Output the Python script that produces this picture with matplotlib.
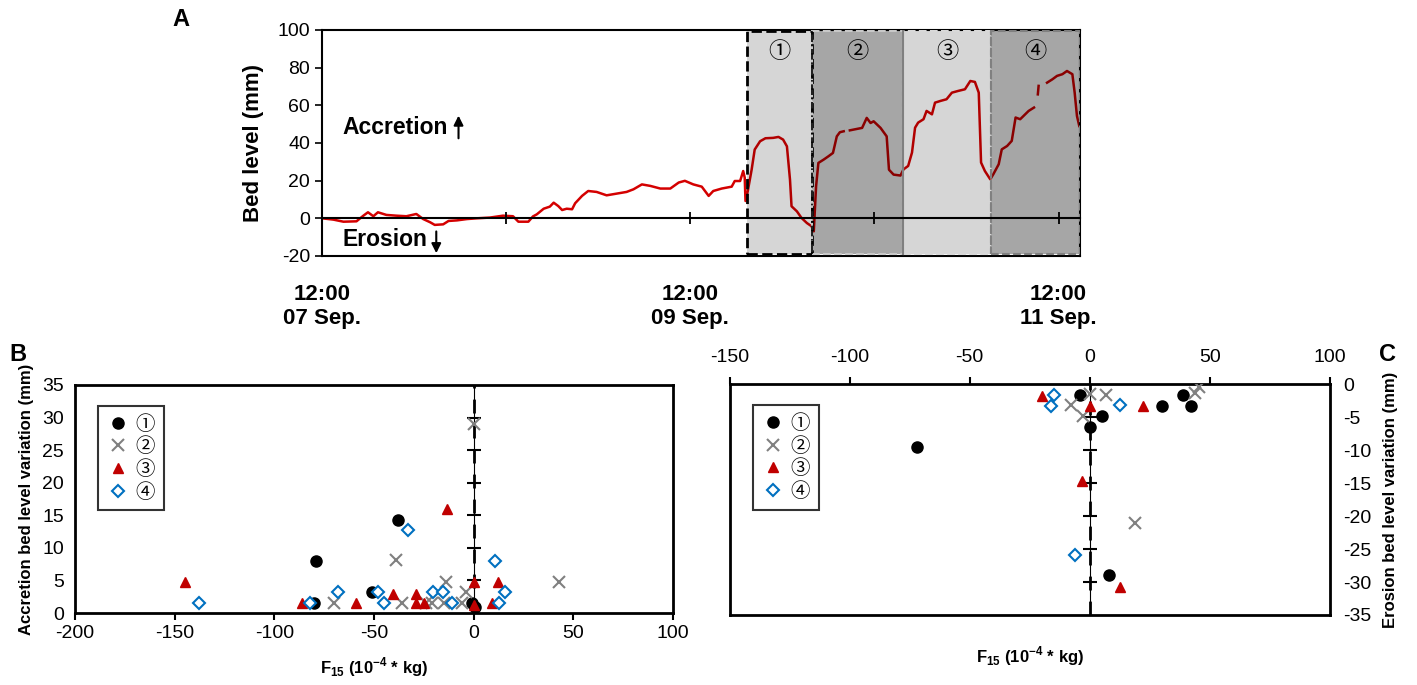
import numpy as np
import matplotlib
matplotlib.use("Agg")
import matplotlib.pyplot as plt
from matplotlib.patches import Rectangle

plt.rcParams['font.family'] = ['Liberation Sans', 'Noto Sans CJK JP', 'DejaVu Sans']
plt.rcParams['mathtext.fontset'] = 'custom'
plt.rcParams['mathtext.rm'] = 'Liberation Sans'
plt.rcParams['mathtext.bf'] = 'Liberation Sans:bold'
plt.rcParams['axes.unicode_minus'] = False

# ---- panel A: bed level time series (hours after 12:00 07 Sep.) ----
hours = [0, 1.5, 2.8, 4.5, 5.4, 6.0, 6.7, 7.3, 8.4, 9.7, 11.0, 12.3, 13.2, 14.1, 14.7,
         15.8, 16.5, 17.6, 18.9, 20.2, 21.9, 23.6, 24.9, 25.6, 26.9, 27.5, 28.0, 28.9,
         29.7, 30.2, 30.8, 31.3, 31.9, 32.6, 33.0, 33.9, 34.7, 35.8, 37.1, 38.4, 39.7,
         40.6, 41.7, 42.8, 44.1, 45.4, 46.5, 47.3, 48.4, 49.5, 50.4, 51.0, 52.1, 53.4,
         53.8, 54.5, 54.9, 55.1, 55.2, 55.5, 56.0, 56.4, 57.1, 57.8, 58.8, 59.5, 60.1,
         60.6, 61.0, 61.2, 61.9, 62.5, 63.2, 63.8, 64.1, 64.4, 64.7, 65.4, 66.0, 66.6,
         67.1, 67.5, 68.0, 68.4, 68.8, 69.3, 70.4, 71.0, 71.5, 71.9, 72.8, 73.6, 73.9,
         74.5, 75.4, 75.8, 76.4, 76.9, 77.3, 77.7, 78.4, 78.8, 79.5, 79.9, 80.6, 81.4,
         82.1, 82.9, 83.8, 84.5, 85.1, 85.6, 85.9, 86.4, 87.1, 87.5, 88.2, 88.6, 89.3,
         89.9, 90.4, 91.0, 92.1, 92.8, 93.0, 93.3, 93.4, 94.0, 94.5, 95.2, 95.8, 96.5,
         97.1, 97.8, 98.1, 98.4, 98.7]
bed_level = [0, -0.7, -1.8, -1.6, 1.4, 3.2, 1.1, 3.2, 1.8, 1.4, 1.1, 2.3, -0.4, -2.1, -3.5,
             -3.2, -1.4, -1.1, -0.4, 0, 0.4, 1.4, 1.1, -1.8, -1.8, 1.0, 2.1, 5.1,
             6.2, 8.3, 6.5, 4.4, 5.1, 4.8, 8.0, 11.9, 14.5, 14.0, 12.2, 13.1, 14.0,
             15.4, 18.0, 17.2, 15.8, 15.8, 19.0, 19.9, 18.0, 16.8, 11.9, 14.5, 15.8, 16.8,
             19.8, 19.8, 25.1, 21.6, 9.2, 14.5, 25.8, 36.5, 40.9, 42.5, 42.7, 43.2, 41.8,
             38.2, 20.5, 6.4, 3.7, 0.2, -2.5, -4.2, -6.9, 17.0, 29.4, 31.2, 32.9, 34.7,
             43.5, 45.7, 46.2, np.nan, 46.7, 47.1, 48.0, 53.3, 50.6, 51.5, 48.0, 43.5, 25.8,
             23.2, 22.7, 26.0, 27.8, 34.9, 48.1, 50.8, 52.6, 57.0, 55.2, 61.4, 62.3, 63.2,
             66.7, 67.6, 68.5, 72.9, 72.4, 66.7, 29.6, 25.1, 20.7, 23.4, 28.7, 36.6, 38.4,
             41.1, 53.5, 52.6, 57.0, 58.8, np.nan, 65.8, 70.3, np.nan, 72.0, 73.8, 75.6, 76.5,
             78.2, 76.5, 66.7, 54.3, 49.0]
period_start = [55.45, 63.85, 75.75, 87.2]
period_end = [63.85, 75.75, 87.2, 98.8]
period_names = ['①', '②', '③', '④']

# ---- panels B and C: bed level variation vs F15 ----
acc_f = {
    '①': [-79, -80, -38, -51, -1, 0.5],
    '②': [0, -39, -14, 43, -70, -36, -21, -15, -4, -6, -24],
    '③': [-145, -86, -59, -40.5, -29, -29, -25, -13.5, 0, 0.4, 12.4, 9],
    '④': [-138, -82, -68, -48, -45, -32.7, -20.3, -15.3, -10.8, 10.6, 15.8, 12.8],
}
acc_h = {
    '①': [8, 1.5, 14.3, 3.2, 1.6, 1.0],
    '②': [29, 8.2, 4.8, 4.8, 1.6, 1.6, 1.6, 1.6, 3.2, 1.6, 1.6],
    '③': [4.8, 1.5, 1.5, 3.0, 3.0, 1.5, 1.5, 16.0, 4.8, 1.2, 4.8, 1.5],
    '④': [1.6, 1.6, 3.2, 3.2, 1.6, 12.8, 3.2, 3.2, 1.6, 8.0, 3.2, 1.6],
}
ero_f = {
    '①': [-4, 5, 0, -72, 30, 39, 42, 8],
    '②': [0, 6.6, -8, -2.8, 45.6, 43.7, 19],
    '③': [-20, 0, 22, -3.3, 12.5],
    '④': [-15, -16, 12.5, -6.2],
}
ero_h = {
    '①': [-1.7, -4.8, -6.5, -9.6, -3.3, -1.7, -3.3, -29],
    '②': [-1.5, -1.7, -3.2, -4.8, -0.4, -1.3, -21],
    '③': [-1.8, -3.3, -3.3, -14.7, -30.7],
    '④': [-1.7, -3.3, -3.2, -25.9],
}

styles = {
    '①': dict(marker='o', color='black', markersize=8, linestyle='none'),
    '②': dict(marker='x', color='#808080', markersize=8, mew=1.5, linestyle='none'),
    '③': dict(marker='^', color='#c00000', markersize=7.5, linestyle='none'),
    '④': dict(marker='D', mfc='white', mec='#0070c0', markersize=6.5, mew=1.5, linestyle='none'),
}

fig = plt.figure(figsize=(14.17, 6.85), dpi=100)

# ================= panel A =================
axA = fig.add_axes([0.2272, 0.6263, 0.535, 0.33])
axA.plot(hours, bed_level, color='#d40000', lw=1.8, zorder=2)
alphas = [0.16, 0.35, 0.16, 0.35]
edges = [('black', '--', 2.0), ('#c8c8c8', '--', 1.5), ('#d8d8d8', '--', 1.5), ('#808080', '--', 1.5)]
for i in range(4):
    w = period_end[i] - period_start[i]
    axA.add_patch(Rectangle((period_start[i], -19.2), w, 118.4, facecolor='black',
                            alpha=alphas[i], edgecolor='none', zorder=3))
    ec, ls, lw = edges[i]
    axA.add_patch(Rectangle((period_start[i], -19.2), w, 118.4, fill=False,
                            edgecolor=ec, linestyle=ls, lw=lw, zorder=4))
    axA.text((period_start[i] + period_end[i]) / 2, 88, period_names[i],
             ha='center', va='center', fontsize=16)
# boundaries between periods
axA.plot([period_end[0]] * 2, [-19.2, 99.2], color='black', ls='-.', lw=1.2, zorder=4)
axA.plot([period_end[1]] * 2, [-19.2, 99.2], color='#808080', ls='-', lw=1.5, zorder=4)
axA.plot([period_end[2]] * 2, [-19.2, 99.2], color='#808080', ls='--', lw=1.5, zorder=4)

axA.set_xlim(0, 98.8)
axA.set_ylim(-20, 100)
axA.set_yticks(range(-20, 101, 20))
axA.tick_params(axis='y', direction='out', length=5, labelsize=14, width=1.2)
axA.set_xticks([0, 48, 96])
axA.set_xticklabels(['12:00\n07 Sep.', '12:00\n09 Sep.', '12:00\n11 Sep.'],
                    fontsize=16, fontweight='bold')
axA.tick_params(axis='x', length=0, pad=20)
for s in axA.spines.values():
    s.set_linewidth(1.5)
axA.set_ylabel('Bed level (mm)', fontsize=16, fontweight='bold', labelpad=10)

zero_ax = axA.secondary_xaxis(20 / 120)
zero_ax.set_xticks([24, 48, 72, 96])
zero_ax.tick_params(direction='inout', length=9, width=1.3, labelbottom=False, labeltop=False)
zero_ax.spines['bottom'].set_linewidth(1.5)
zero_ax.set_zorder(5)

axA.text(2.7, 48, 'Accretion', fontsize=16.5, fontweight='bold', va='center')
axA.annotate('', xy=(17.8, 56), xytext=(17.8, 41),
             arrowprops=dict(arrowstyle='-|>', color='black', lw=1.5, mutation_scale=14))
axA.text(2.7, -11.5, 'Erosion', fontsize=16.5, fontweight='bold', va='center')
axA.annotate('', xy=(14.9, -20), xytext=(14.9, -5.5),
             arrowprops=dict(arrowstyle='-|>', color='black', lw=1.5, mutation_scale=14),
             annotation_clip=False)

fig.text(0.128, 0.972, 'A', fontsize=17, fontweight='bold', va='center', ha='center')

flabel = r'F$_{\mathbf{15}}$ (10$^{\mathbf{-4}}$ * kg)'

# ================= panel B =================
axB = fig.add_axes([0.0529, 0.105, 0.422, 0.333])
axB.axvline(0, color='black', ls=(0, (5, 4)), lw=2, zorder=3)
for k in period_names:
    axB.plot(acc_f[k], acc_h[k], label=k, zorder=5, **styles[k])
axB.set_xlim(-200, 100)
axB.set_ylim(0, 35)
axB.set_xticks(range(-200, 101, 50))
axB.set_yticks(range(0, 36, 5))
axB.tick_params(axis='x', direction='out', length=5, width=1.5, labelsize=14)
axB.tick_params(axis='y', length=0, labelsize=14, pad=8)
for s in axB.spines.values():
    s.set_linewidth(2)
axB.set_xlabel(flabel, fontsize=12, fontweight='bold', labelpad=10)
axB.set_ylabel('Accretion bed level variation (mm)', fontsize=12, fontweight='bold', labelpad=6)
zb = axB.secondary_yaxis(2 / 3)
zb.set_yticks(range(5, 31, 5))
zb.tick_params(direction='inout', length=10, width=1.5, labelleft=False, labelright=False)
zb.spines['left'].set_visible(False)
leg = axB.legend(loc='upper left', bbox_to_anchor=(0.022, 0.95), fontsize=14, frameon=True,
                 fancybox=False, edgecolor='black', handletextpad=0.3, borderpad=0.45,
                 labelspacing=0.2, handlelength=1.2)
leg.get_frame().set_linewidth(1.5)
fig.text(0.0127, 0.482, 'B', fontsize=17, fontweight='bold', va='center', ha='center')

# ================= panel C =================
axC = fig.add_axes([0.515, 0.1022, 0.4234, 0.337])
axC.axvline(0, color='black', ls=(0, (5, 4)), lw=2, zorder=3)
for k in period_names:
    axC.plot(ero_f[k], ero_h[k], label=k, zorder=5, **styles[k])
axC.set_xlim(-150, 100)
axC.set_ylim(-35, 0)
axC.set_xticks(range(-150, 101, 50))
axC.set_yticks(range(-35, 1, 5))
axC.xaxis.tick_top()
axC.yaxis.tick_right()
axC.tick_params(axis='x', direction='out', length=5, width=1.5, labelsize=14, pad=8)
axC.tick_params(axis='y', length=0, labelsize=14, pad=10)
for s in axC.spines.values():
    s.set_linewidth(2)
axC.yaxis.set_label_position('right')
axC.set_ylabel('Erosion bed level variation (mm)', fontsize=12, fontweight='bold',
               rotation=90, labelpad=8)
axC.text(0.5, -0.18, flabel, transform=axC.transAxes, ha='center', va='center',
         fontsize=12, fontweight='bold')
zc = axC.secondary_yaxis(0.6)
zc.set_yticks(range(-30, -4, 5))
zc.tick_params(direction='inout', length=10, width=1.5, labelleft=False, labelright=False)
zc.spines['left'].set_visible(False)
leg = axC.legend(loc='upper left', bbox_to_anchor=(0.022, 0.95), fontsize=14, frameon=True,
                 fancybox=False, edgecolor='black', handletextpad=0.3, borderpad=0.45,
                 labelspacing=0.2, handlelength=1.2)
leg.get_frame().set_linewidth(1.5)
fig.text(0.9795, 0.482, 'C', fontsize=17, fontweight='bold', va='center', ha='center')

fig.savefig('out.png', dpi=100)
